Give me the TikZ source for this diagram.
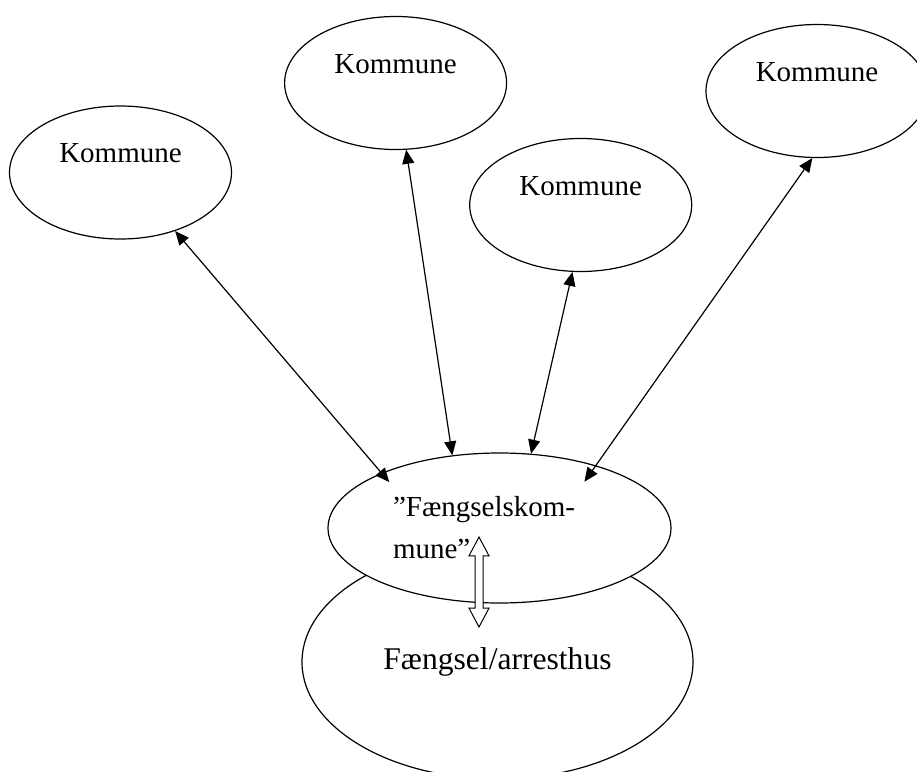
\documentclass[tikz,border=0pt]{standalone}
\usepackage{fontspec}
\setmainfont{Liberation Serif}
\usetikzlibrary{shapes.geometric,shapes.arrows,arrows.meta,calc}
\tikzset{
  kommune/.style={ellipse, draw, line width=0.6pt, fill=white,
                  minimum width=111pt, minimum height=66.5pt,
                  text height=10pt, text depth=20pt, font=\fontsize{14.5}{17}\selectfont},
  hub/.style={ellipse, draw, line width=0.6pt, fill=white,
              minimum width=171.5pt, minimum height=75pt, inner sep=2pt,
              text width=106.5pt, align=left, font=\fontsize{14.5}{21}\selectfont},
  prison/.style={ellipse, draw, line width=0.6pt,
                 minimum width=195.5pt, minimum height=117pt, font=\fontsize{15.8}{19}\selectfont},
  link/.style={{Triangle[length=7pt,width=6pt]}-{Triangle[length=7pt,width=6pt]}, line width=0.6pt},
  dbl/.style={double arrow, draw, line width=0.5pt, fill=white, rotate=90,
              minimum height=45pt, inner sep=0pt, text height=3.5pt, text depth=0pt,
              double arrow head extend=3pt, double arrow tip angle=56}
}
\begin{document}
\begin{tikzpicture}[x=0.5pt, y=-0.5pt]
\clip (0,0) rectangle (917,772);
% prison and its municipality
\node[prison] (fa) at (497.5,662) {Fængsel/arresthus};
\node[hub] (fk) at (499.5,528) {”Fængselskom-\\mune”};
% the other municipalities
\node[kommune] (k1) at (120.5,172.5) {Kommune};
\node[kommune] (k2) at (395.6,83) {Kommune};
\node[kommune] (k3) at (580.7,205) {Kommune};
\node[kommune] (k4) at (817,91) {Kommune};
\draw[link, shorten >=-6pt] (k1.-47) -- (fk.155);
\draw[link] (k2.-81) -- (fk.123);
\draw[link] (k3.-97) -- (fk.67);
\draw[link, shorten >=-10pt] (k4.-94) -- (fk.33);
\node[dbl] (swap) at ($(fk.center)+(-20.5,54)$) {};
\end{tikzpicture}
\end{document}
